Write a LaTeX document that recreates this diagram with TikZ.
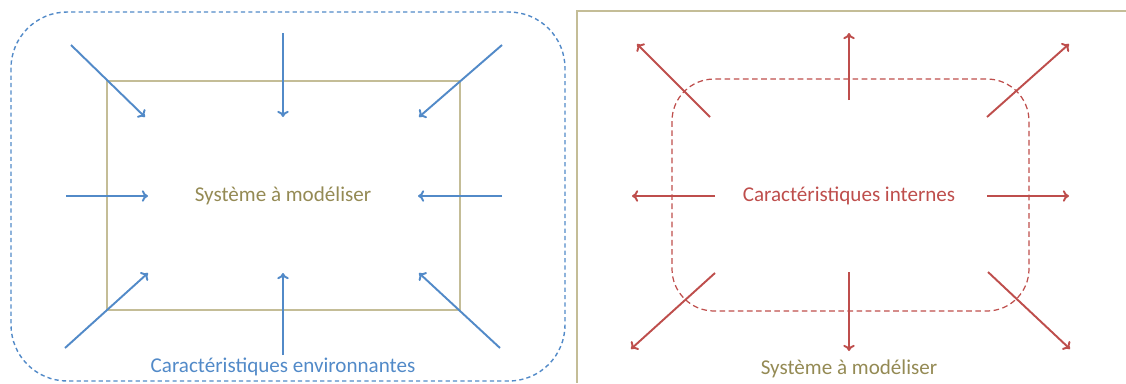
\documentclass[tikz,border=0pt]{standalone}
\usepackage{fontspec}
\setmainfont{Carlito}
\usetikzlibrary{arrows.meta}
\definecolor{envblue}{RGB}{82,138,200}
\definecolor{intred}{RGB}{190,78,76}
\definecolor{sysline}{RGB}{196,189,151}
\definecolor{systext}{RGB}{148,138,84}

\begin{document}
\begin{tikzpicture}[x=0.02cm, y=-0.02cm]
			\tikzset{txt/.style = {inner sep=0pt,
			font=\fontsize{12}{14}\selectfont},
			in_arrow/.style = {draw=envblue, line width=1.1pt,
			-{To[length=3.5pt,width=6.5pt]}},
			out_arrow/.style = {draw=intred, line width=1.1pt,
			-{To[length=3.5pt,width=6.5pt]}}}
			\useasboundingbox (0,0) rectangle (1126,383);
			
			% left: the environment acts on the system
			\draw[envblue, line width=0.8pt, dash pattern=on 2.4pt off 1.8pt,
			rounded corners=32pt] (11,12) rectangle (565,381);
			\draw[sysline, line width=1.6pt] (107,81) rectangle (460,310);
			\node[txt, text=systext] (sys_left) at (283,196)
			{Système à modéliser};
			\node[txt, text=envblue] (env_label) at (283,367)
			{Caractéristiques environnantes};
			
			\coordinate (l_tl_a) at (71,45);
			\coordinate (l_tl_b) at (145,117);
			\coordinate (l_t_a) at (283,33);
			\coordinate (l_t_b) at (283,117);
			\coordinate (l_tr_a) at (502,45);
			\coordinate (l_tr_b) at (419,117);
			\coordinate (l_l_a) at (66,196);
			\coordinate (l_l_b) at (148,196);
			\coordinate (l_r_a) at (502,196);
			\coordinate (l_r_b) at (418,196);
			\coordinate (l_bl_a) at (65,348);
			\coordinate (l_bl_b) at (148,273);
			\coordinate (l_b_a) at (283,355);
			\coordinate (l_b_b) at (283,273);
			\coordinate (l_br_a) at (500,348);
			\coordinate (l_br_b) at (419,273);
			
			\draw[in_arrow] (l_tl_a) -- (l_tl_b);
			\draw[in_arrow] (l_t_a) -- (l_t_b);
			\draw[in_arrow] (l_tr_a) -- (l_tr_b);
			\draw[in_arrow] (l_l_a) -- (l_l_b);
			\draw[in_arrow] (l_r_a) -- (l_r_b);
			\draw[in_arrow] (l_bl_a) -- (l_bl_b);
			\draw[in_arrow] (l_b_a) -- (l_b_b);
			\draw[in_arrow] (l_br_a) -- (l_br_b);
			
			% right: the system acts on its surroundings
			\draw[sysline, line width=1.6pt] (1126,11) -| (577,383);
			\draw[intred, line width=0.7pt, dash pattern=on 3.2pt off 2pt,
			rounded corners=24pt] (672,79) rectangle (1029,311);
			\node[txt, text=intred] (int_label) at (849,196)
			{Caractéristiques internes};
			\node[txt, text=systext] (sys_right) at (849,369)
			{Système à modéliser};
			
			\coordinate (r_tl_a) at (710,117);
			\coordinate (r_tl_b) at (637,44);
			\coordinate (r_t_a) at (849,100);
			\coordinate (r_t_b) at (849,33);
			\coordinate (r_tr_a) at (987,117);
			\coordinate (r_tr_b) at (1069,44);
			\coordinate (r_l_a) at (715,196);
			\coordinate (r_l_b) at (632,196);
			\coordinate (r_r_a) at (987,196);
			\coordinate (r_r_b) at (1069,196);
			\coordinate (r_bl_a) at (715,273);
			\coordinate (r_bl_b) at (631,349);
			\coordinate (r_b_a) at (849,272);
			\coordinate (r_b_b) at (849,351);
			\coordinate (r_br_a) at (988,272);
			\coordinate (r_br_b) at (1070,349);
			
			\draw[out_arrow] (r_tl_a) -- (r_tl_b);
			\draw[out_arrow] (r_t_a) -- (r_t_b);
			\draw[out_arrow] (r_tr_a) -- (r_tr_b);
			\draw[out_arrow] (r_l_a) -- (r_l_b);
			\draw[out_arrow] (r_r_a) -- (r_r_b);
			\draw[out_arrow] (r_bl_a) -- (r_bl_b);
			\draw[out_arrow] (r_b_a) -- (r_b_b);
			\draw[out_arrow] (r_br_a) -- (r_br_b);
		\end{tikzpicture}
\end{document}
